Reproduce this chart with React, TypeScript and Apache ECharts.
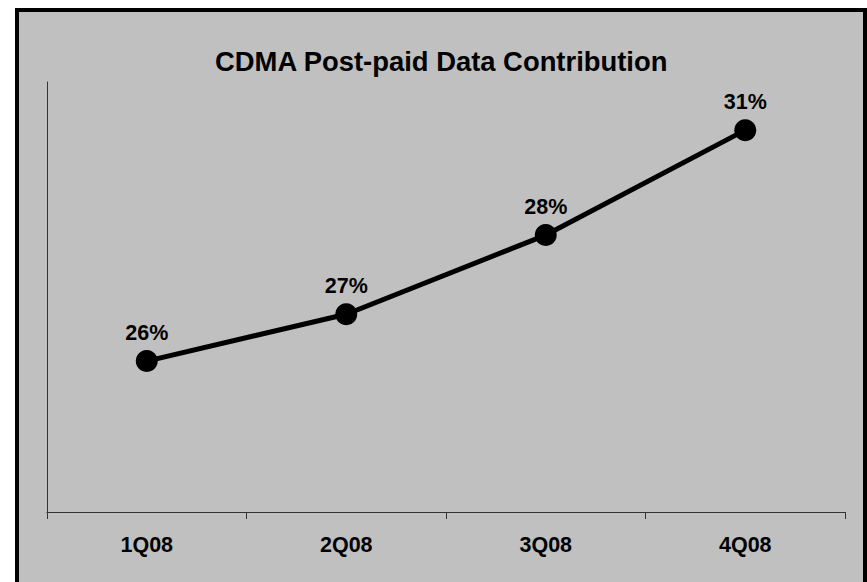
import React, { useEffect, useRef } from "react";
import * as echarts from "echarts";

const titleText = "CDMA Post-paid Data Contribution";
const categories = ["1Q08", "2Q08", "3Q08", "4Q08"];
const values = [25.51, 26.6, 28.44, 30.88];
const pointLabels = ["26%", "27%", "28%", "31%"];
const yMin = 22;
const yMax = 32;

const FONT = 'Arial, "Liberation Sans", sans-serif';

export default function App() {
  const ref = useRef<HTMLDivElement>(null);

  useEffect(() => {
    if (!ref.current) return;
    const chart = echarts.init(ref.current, null, { renderer: "svg" });
    chart.setOption({
      animation: false,
      backgroundColor: "#ffffff",
      title: {
        text: titleText,
        left: 215,
        top: 48,
        padding: 0,
        textStyle: { fontFamily: FONT, fontWeight: "bold", fontSize: 27.4, color: "#000" },
      },
      graphic: [
        {
          type: "rect",
          z: -10,
          silent: true,
          shape: { x: 17, y: 10, width: 848, height: 600 },
          style: { fill: "#C0C0C0", stroke: "#000", lineWidth: 4 },
        },
      ],
      grid: { left: 47, right: 22, top: 82, bottom: 70, containLabel: false },
      xAxis: {
        type: "category",
        data: categories,
        boundaryGap: true,
        axisLine: { show: true, lineStyle: { color: "#333", width: 1 } },
        axisTick: { show: true, length: 7, lineStyle: { color: "#333", width: 1 } },
        axisLabel: {
          margin: 22,
          fontFamily: FONT,
          fontWeight: "bold",
          fontSize: 21.5,
          color: "#000",
        },
        splitLine: { show: false },
      },
      yAxis: {
        type: "value",
        min: yMin,
        max: yMax,
        axisLine: { show: true, lineStyle: { color: "#333", width: 1 } },
        axisTick: { show: false },
        axisLabel: { show: false },
        splitLine: { show: false },
      },
      series: [
        {
          type: "line",
          data: values,
          symbol: "circle",
          symbolSize: 22,
          lineStyle: { color: "#000", width: 5 },
          itemStyle: { color: "#000" },
          label: {
            show: true,
            position: "top",
            distance: 6,
            formatter: (p: any) => pointLabels[p.dataIndex],
            fontFamily: FONT,
            fontWeight: "bold",
            fontSize: 21.5,
            color: "#000",
          },
        },
      ],
    });
    return () => chart.dispose();
  }, []);

  return (
    <div
      ref={ref}
      style={{ position: "absolute", left: 0, top: 0, width: 867, height: 582 }}
    />
  );
}
